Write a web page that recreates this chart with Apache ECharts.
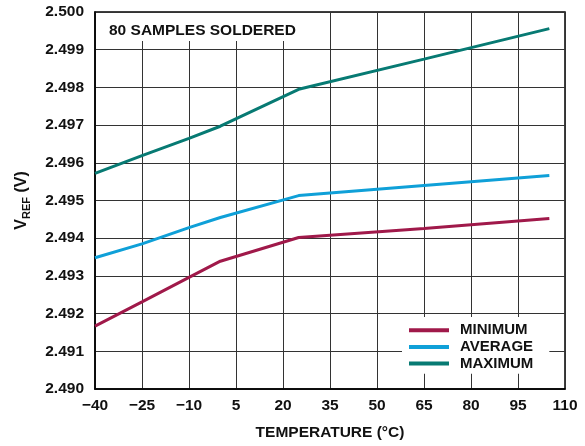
<!DOCTYPE html>
<html>
<head>
<meta charset="utf-8">
<script src="https://cdn.jsdelivr.net/npm/echarts@6/dist/echarts.min.js"></script>
<style>
html,body{margin:0;padding:0;background:#fff;}
#chart{width:585px;height:446px;}
</style>
</head>
<body>
<div id="chart"></div>
<script>
// Data
var temperatures = [-40, -25, -10, 0, 25, 65, 105];
var minimumV = [2.49167, 2.49231, 2.49296, 2.49339, 2.49402, 2.49426, 2.49452];
var averageV = [2.49348, 2.49385, 2.49428, 2.49455, 2.49513, 2.49540, 2.49566];
var maximumV = [2.49572, 2.49619, 2.49665, 2.49697, 2.49795, 2.49875, 2.49956];
var seriesNames = ['MINIMUM', 'AVERAGE', 'MAXIMUM'];
var xTickStart = -40, xTickEnd = 110, xTickStep = 15;
var yTickStart = 2.490, yTickEnd = 2.500, yTickStep = 0.001;

var FONT = '"Liberation Sans", Arial, Helvetica, sans-serif';
var TXT = '#111';
function pairs(vals) {
  // x shifted so that axis min is a multiple of the tick interval
  return temperatures.map(function (t, i) { return [t - xTickStart, vals[i]]; });
}

var chart = echarts.init(document.getElementById('chart'), null, {renderer: 'canvas'});
chart.setOption({
  animation: false,
  backgroundColor: '#fff',
  title: {
    text: '80 SAMPLES SOLDERED',
    left: 97, top: 13,
    padding: [10, 8, 2, 12],
    backgroundColor: '#fff',
    textStyle: {fontFamily: FONT, fontSize: 15.5, fontWeight: 'bold', color: TXT, lineHeight: 16}
  },
  legend: {
    orient: 'vertical',
    left: 402, top: 317,
    padding: [5, 16, 2, 7],
    backgroundColor: '#fff',
    itemWidth: 40, itemHeight: 4, itemGap: 0,
    icon: 'rect',
    data: seriesNames,
    textStyle: {fontFamily: FONT, fontSize: 15, fontWeight: 'bold', color: TXT, lineHeight: 16.6, padding: [0, 0, 0, 6]}
  },
  grid: {left: 95, right: 20, top: 12, bottom: 57, show: true, borderColor: '#000', borderWidth: 1.5, containLabel: false},
  xAxis: {
    type: 'value',
    min: 0, max: xTickEnd - xTickStart, interval: xTickStep,
    name: 'TEMPERATURE (°C)', nameLocation: 'middle', nameGap: 36,
    nameTextStyle: {fontFamily: FONT, fontSize: 15.5, fontWeight: 'bold', color: TXT},
    axisLine: {show: true, lineStyle: {color: '#000', width: 1.5}},
    axisTick: {show: false},
    splitLine: {show: true, lineStyle: {color: '#333', width: 1}},
    axisLabel: {
      margin: 9, fontFamily: FONT, fontSize: 15.5, fontWeight: 'bold', color: TXT,
      formatter: function (v) { var t = v + xTickStart; return t < 0 ? '\u2212' + Math.abs(t) : String(t); }
    }
  },
  yAxis: {
    type: 'value',
    min: yTickStart, max: yTickEnd, interval: yTickStep,
    name: '{v|V}{s|REF}{v| (V)}', nameLocation: 'middle', nameGap: 63, nameRotate: 90,
    nameTextStyle: {
      fontFamily: FONT, fontSize: 15.5, fontWeight: 'bold', color: TXT,
      rich: {
        v: {fontFamily: FONT, fontSize: 16, fontWeight: 'bold', color: TXT, lineHeight: 20},
        s: {fontFamily: FONT, fontSize: 11, fontWeight: 'bold', color: TXT, lineHeight: 20, padding: [9, 0, 0, 0]}
      }
    },
    axisLine: {show: true, lineStyle: {color: '#000', width: 1.5}},
    axisTick: {show: false},
    splitLine: {show: true, lineStyle: {color: '#333', width: 1}},
    axisLabel: {
      margin: 11, fontFamily: FONT, fontSize: 15.5, fontWeight: 'bold', color: TXT,
      formatter: function (v) { return v.toFixed(3); }
    }
  },
  series: [
    {name: seriesNames[0], type: 'line', data: pairs(minimumV), showSymbol: false, symbol: 'none', lineStyle: {width: 3, color: '#a0194a'}, itemStyle: {color: '#a0194a'}, z: 3},
    {name: seriesNames[1], type: 'line', data: pairs(averageV), showSymbol: false, symbol: 'none', lineStyle: {width: 3, color: '#0fa0d8'}, itemStyle: {color: '#0fa0d8'}, z: 3},
    {name: seriesNames[2], type: 'line', data: pairs(maximumV), showSymbol: false, symbol: 'none', lineStyle: {width: 3, color: '#077a73'}, itemStyle: {color: '#077a73'}, z: 3}
  ]
});
</script>
</body>
</html>
